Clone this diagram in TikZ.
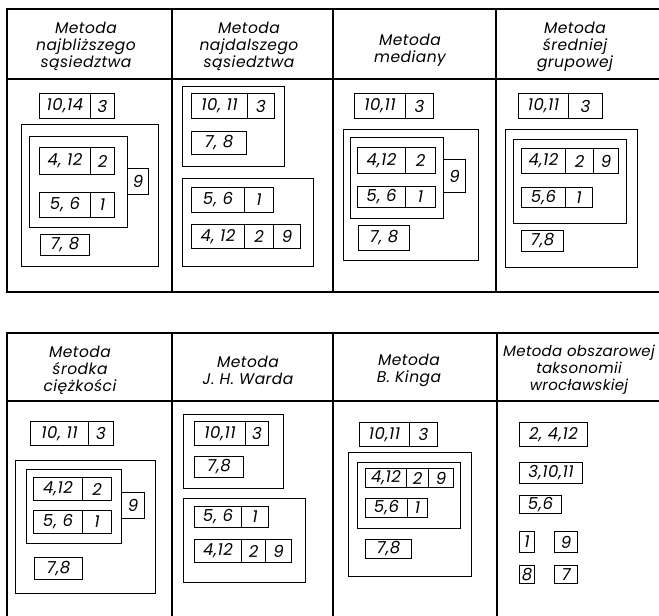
\documentclass[tikz,border=0pt]{standalone}
\usepackage{fontspec}
\setmainfont{Poppins}
\newcommand\bx[6]{\node[cell, minimum width={#4-#2}, minimum height={#5-#3}] (#1) at (#2,#3) {#6};}
\newcommand\fr[5]{\node[frame, minimum width={#4-#2}, minimum height={#5-#3}] (#1) at (#2,#3) {};}
\begin{document}
\begin{tikzpicture}[x=1pt,y=-1pt,
  cell/.style={draw, line width=1pt, inner sep=0pt, anchor=north west, font=\fontsize{16.5}{17}\selectfont\itshape\addfontfeatures{LetterSpace=3}},
  frame/.style={draw, line width=1pt, inner sep=0pt, anchor=north west},
  head/.style={align=center, inner sep=0pt, font=\fontsize{15.5}{17}\selectfont\itshape\addfontfeatures{LetterSpace=3}},
  rule/.style={line width=1.5pt}]
\useasboundingbox (0,0) rectangle (659,616);
% ---- top table
\draw[rule] (659,9) -- (7,9) -- (7,292) -- (659,292);
\draw[rule] (7,79) -- (659,79);
\draw[rule] (172,9) -- (172,292) (333,9) -- (333,292) (496,9) -- (496,292);
% ---- bottom table
\draw[rule] (7,616) -- (7,333) -- (659,333);
\draw[rule] (7,401) -- (659,401);
\draw[rule] (172,333) -- (172,616) (333,333) -- (333,616) (497,333) -- (497,616);
% ---- headers
\node[head] (h1) at (86,46) {Metoda\\najbliższego\\sąsiedztwa};
\node[head] (h2) at (249,46) {Metoda\\najdalszego\\sąsiedztwa};
\node[head] (h3) at (410,50) {Metoda\\mediany};
\node[head] (h4) at (575,47) {Metoda\\średniej\\grupowej};
\node[head] (h5) at (80,370) {Metoda\\środka\\ciężkości};
\node[head] (h6) at (248,370) {Metoda\\J. H. Warda};
\node[head] (h7) at (409,370) {Metoda\\B. Kinga};
\node[head, font=\fontsize{15}{17}\selectfont\itshape\addfontfeatures{LetterSpace=2}] (h8) at (579,370) {Metoda obszarowej\\taksonomii\\wrocławskiej};
% ---- panel 1
\bx{p1a}{39}{93}{90}{118}{10,14}
\bx{p1b}{90}{93}{114}{118}{3}
\fr{p1o}{21}{124}{158}{266}
\fr{p1i}{29}{136}{127}{227}
\bx{p1c}{39}{147}{90}{174}{4, 12}
\bx{p1d}{90}{147}{114}{174}{2}
\bx{p1e}{39}{192}{90}{217}{5, 6}
\bx{p1f}{90}{192}{114}{217}{1}
\bx{p1g}{127}{168}{148}{194}{9}
\bx{p1h}{40}{234}{89}{255}{7, 8}
% ---- panel 2
\fr{p2A}{182}{86}{284}{166}
\bx{p2a}{191}{93}{247}{118}{10, 11}
\bx{p2b}{247}{93}{274}{118}{3}
\bx{p2c}{191}{131}{246}{154}{7, 8}
\fr{p2B}{182}{178}{313}{266}
\bx{p2d}{191}{187}{244}{212}{5, 6}
\bx{p2e}{244}{187}{273}{212}{1}
\bx{p2f}{191}{224}{244}{248}{4, 12}
\bx{p2g}{244}{224}{273}{248}{2}
\bx{p2h}{273}{224}{300}{248}{9}
% ---- panel 3
\bx{p3a}{354}{93}{405}{118}{10,11}
\bx{p3b}{405}{93}{433}{118}{3}
\fr{p3o}{343}{129}{478}{260}
\fr{p3i}{350}{137}{443}{218}
\bx{p3c}{357}{147}{405}{173}{4,12}
\bx{p3d}{405}{147}{435}{173}{2}
\bx{p3e}{357}{186}{405}{207}{5, 6}
\bx{p3f}{405}{186}{435}{207}{1}
\bx{p3g}{443}{159}{465}{192}{9}
\bx{p3h}{358}{225}{409}{250}{7, 8}
% ---- panel 4
\bx{p4a}{518}{93}{568}{118}{10,11}
\bx{p4b}{568}{93}{602}{118}{3}
\fr{p4o}{505}{129}{637}{267}
\fr{p4i}{513}{139}{626}{223}
\bx{p4c}{521}{148}{565}{173}{4,12}
\bx{p4d}{565}{148}{593}{173}{2}
\bx{p4e}{593}{148}{618}{173}{9}
\bx{p4f}{521}{187}{565}{207}{5,6}
\bx{p4g}{565}{187}{592}{207}{1}
\bx{p4h}{521}{230}{563}{251}{7,8}
% ---- panel 5
\bx{p5a}{30}{421}{88}{445}{10, 11}
\bx{p5b}{88}{421}{113}{445}{3}
\fr{p5o}{15}{460}{155}{593}
\fr{p5i}{26}{469}{121}{543}
\bx{p5c}{33}{477}{82}{500}{4,12}
\bx{p5d}{82}{477}{111}{500}{2}
\bx{p5e}{33}{510}{82}{533}{5, 6}
\bx{p5f}{82}{510}{111}{533}{1}
\bx{p5g}{121}{492}{144}{518}{9}
\bx{p5h}{34}{557}{82}{579}{7,8}
% ---- panel 6
\fr{p6A}{183}{414}{283}{488}
\bx{p6a}{194}{421}{245}{445}{10,11}
\bx{p6b}{245}{421}{268}{445}{3}
\bx{p6c}{194}{456}{243}{477}{7,8}
\fr{p6B}{183}{498}{305}{582}
\bx{p6d}{194}{506}{241}{527}{5, 6}
\bx{p6e}{241}{506}{268}{527}{1}
\bx{p6f}{194}{539}{241}{562}{4,12}
\bx{p6g}{241}{539}{265}{562}{2}
\bx{p6h}{265}{539}{291}{562}{9}
% ---- panel 7
\bx{p7a}{359}{422}{409}{446}{10,11}
\bx{p7b}{409}{422}{437}{446}{3}
\fr{p7o}{348}{452}{471}{576}
\fr{p7i}{357}{462}{460}{528}
\bx{p7c}{365}{468}{406}{487}{4,12}
\bx{p7d}{406}{468}{428}{487}{2}
\bx{p7e}{428}{468}{453}{487}{9}
\bx{p7f}{365}{498}{407}{517}{5,6}
\bx{p7g}{407}{498}{427}{517}{1}
\bx{p7h}{365}{539}{411}{558}{7,8}
% ---- panel 8
\bx{p8a}{519}{422}{587}{446}{2, 4,12}
\bx{p8b}{519}{462}{582}{483}{3,10,11}
\bx{p8c}{519}{495}{561}{513}{5,6}
\bx{p8d}{519}{531}{534}{552}{1}
\bx{p8e}{554}{531}{577}{552}{9}
\bx{p8f}{519}{565}{534}{583}{8}
\bx{p8g}{554}{565}{577}{583}{7}
\end{tikzpicture}
\end{document}
